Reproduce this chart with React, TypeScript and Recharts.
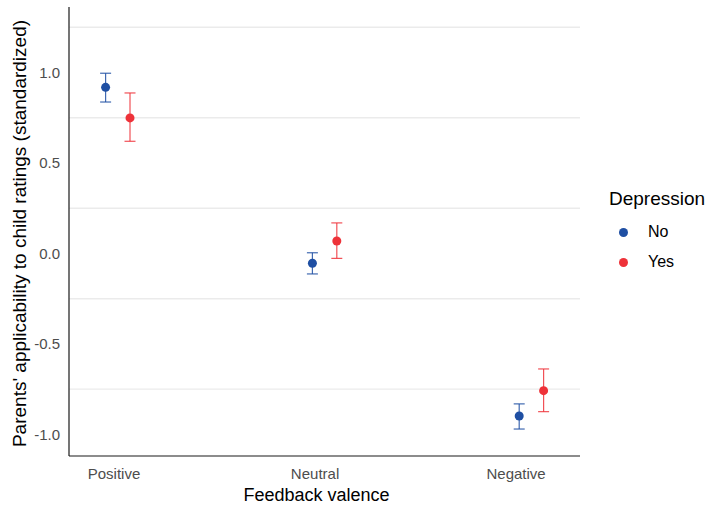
import React from 'react';
import { ComposedChart, Scatter, ErrorBar, XAxis, YAxis, ReferenceLine, Label } from 'recharts';

const categories = ['Positive', 'Neutral', 'Negative'];
const seriesNames = ['No', 'Yes'];
const seriesColors = ['#1F4FA3', '#EE3239'];
const noMean = [0.918, -0.054, -0.898];
const noLow = [0.837, -0.113, -0.970];
const noHigh = [0.996, 0.004, -0.831];
const yesMean = [0.749, 0.069, -0.758];
const yesLow = [0.620, -0.027, -0.874];
const yesHigh = [0.887, 0.169, -0.638];
const yTicks = [-1, -0.5, 0, 0.5, 1];
const gridValues = [1.25, 0.75, 0.25, -0.25, -0.75];
const dodge = 0.059;

const build = (mean: number[], low: number[], high: number[], off: number) =>
  mean.map((m, i) => ({ x: i + 1 + off, y: m, err: [m - low[i], high[i] - m] }));

const noData = build(noMean, noLow, noHigh, -dodge);
const yesData = build(yesMean, yesLow, yesHigh, dodge);
const labelData = categories.map((c, i) => ({ x: i + 1, y: 0 }));

const FONT = '"Liberation Sans", Arial, sans-serif';

const dot = (color: string) => (props: any) => (
  <circle cx={props.cx} cy={props.cy} r={4.5} fill={color} />
);
const nothing = () => <g />;

export default function App() {
  return (
    <div style={{ position: 'absolute', left: 0, top: 0, width: 709, height: 508, background: '#fff', fontFamily: FONT }}>
      <ComposedChart width={709} height={508} margin={{ top: 7, right: 129, left: 0, bottom: 0 }}>
        {gridValues.map((v) => (
          <ReferenceLine key={v} y={v} yAxisId="y" xAxisId="p" stroke="#EBEBEB" strokeWidth={1.3} />
        ))}
        <XAxis
          xAxisId="p"
          type="number"
          dataKey="x"
          domain={[0.764, 3.235]}
          allowDataOverflow
          hide
        />
        <XAxis
          xAxisId="l"
          type="number"
          dataKey="x"
          domain={[0.776, 3.318]}
          allowDataOverflow
          ticks={[1, 2, 3]}
          tickFormatter={(v: number) => categories[v - 1]}
          height={52}
          tickLine={false}
          tickSize={0}
          tickMargin={12}
          axisLine={{ stroke: '#1a1a1a', strokeWidth: 1.2 }}
          tick={{ fill: '#4D4D4D', fontSize: 15, fontFamily: FONT }}
        >
          <Label
            value="Feedback valence"
            position="insideBottom"
            offset={7}
            dx={-8}
            style={{ fill: '#000', fontSize: 18, fontFamily: FONT }}
          />
        </XAxis>
        <YAxis
          yAxisId="y"
          type="number"
          domain={[-1.119, 1.362]}
          allowDataOverflow
          ticks={yTicks}
          tickFormatter={(v: number) => v.toFixed(1)}
          width={69}
          tickLine={false}
          tickSize={0}
          tickMargin={9}
          axisLine={{ stroke: '#1a1a1a', strokeWidth: 1.2 }}
          tick={{ fill: '#4D4D4D', fontSize: 15, fontFamily: FONT }}
        >
          <Label
            content={(p: any) => {
              const vb = p.viewBox;
              const cx = 19;
              const cy = vb.y + vb.height / 2 + 2;
              return (
                <text
                  x={cx}
                  y={cy}
                  transform={`rotate(-90 ${cx} ${cy})`}
                  textAnchor="middle"
                  dominantBaseline="central"
                  style={{ fill: '#000', fontSize: 19, fontFamily: FONT }}
                >
                  Parents' applicability to child ratings (standardized)
                </text>
              );
            }}
          />
        </YAxis>
        <Scatter
          data={labelData}
          xAxisId="l"
          yAxisId="y"
          dataKey="y"
          shape={nothing}
          isAnimationActive={false}
        />
        <Scatter
          name={seriesNames[0]}
          data={noData}
          xAxisId="p"
          yAxisId="y"
          dataKey="y"
          fill={seriesColors[0]}
          shape={dot(seriesColors[0])}
          isAnimationActive={false}
        >
          <ErrorBar dataKey="err" direction="y" width={5.5} stroke={seriesColors[0]} strokeWidth={1.2} strokeOpacity={0.85} isAnimationActive={false} />
        </Scatter>
        <Scatter
          name={seriesNames[1]}
          data={yesData}
          xAxisId="p"
          yAxisId="y"
          dataKey="y"
          fill={seriesColors[1]}
          shape={dot(seriesColors[1])}
          isAnimationActive={false}
        >
          <ErrorBar dataKey="err" direction="y" width={5.5} stroke={seriesColors[1]} strokeWidth={1.2} strokeOpacity={0.85} isAnimationActive={false} />
        </Scatter>
      </ComposedChart>
      <div style={{ position: 'absolute', left: 609, top: 187, fontFamily: FONT }}>
        <div style={{ fontSize: 19, color: '#000', lineHeight: '24px' }}>Depression</div>
        {seriesNames.map((n, i) => (
          <div key={n} style={{ position: 'absolute', left: 0, top: 33 + i * 30, height: 24, width: 100 }}>
            <span style={{ position: 'absolute', left: 10, top: 7.5, width: 9, height: 9, borderRadius: '50%', background: seriesColors[i] }} />
            <span style={{ position: 'absolute', left: 39, top: 0, fontSize: 16, lineHeight: '24px', color: '#000' }}>{n}</span>
          </div>
        ))}
      </div>
    </div>
  );
}
